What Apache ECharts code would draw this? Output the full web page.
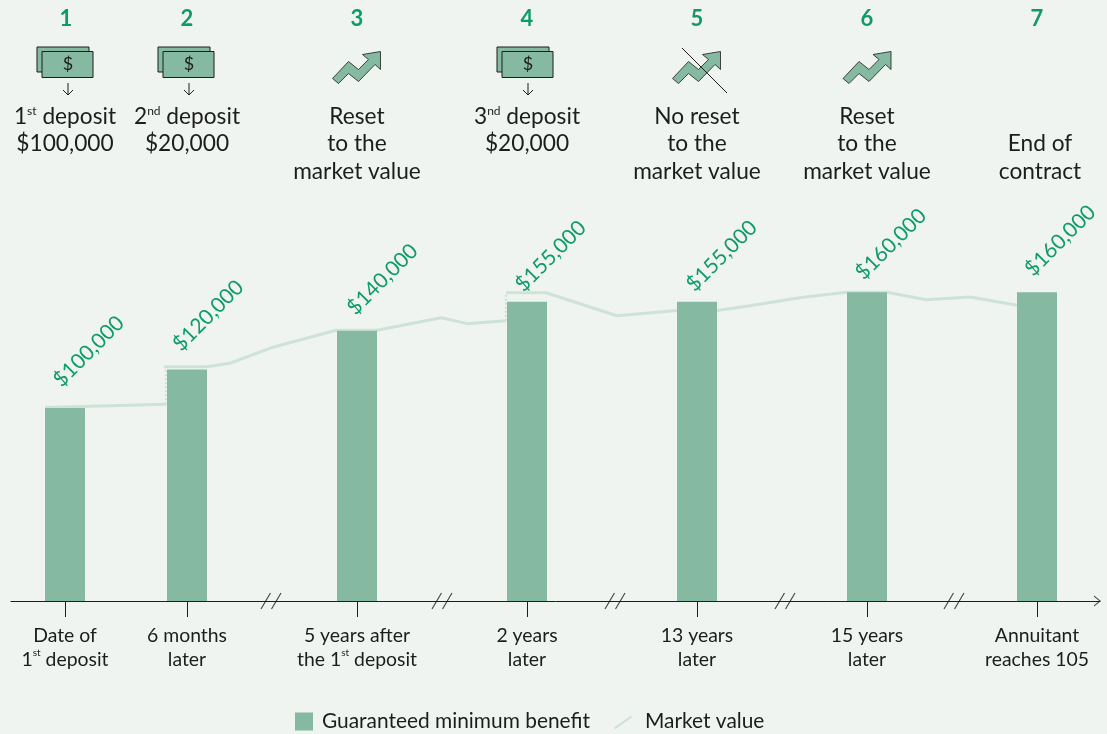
<!DOCTYPE html>
<html>
<head>
<meta charset="utf-8">
<script src="https://cdn.jsdelivr.net/npm/echarts@6/dist/echarts.min.js"></script>
<style>
  html, body { margin: 0; padding: 0; background: #eff4f0; }
  #chart { width: 1107px; height: 734px; }
</style>
</head>
<body>
<div id="chart"></div>
<script>
// x values are positions along the stylised (broken) time line
const tickPositions = [65, 187, 357, 527, 697, 867, 1037];
const tickLabels = [
  'Date of\n1{sup|st} deposit',
  '6 months\nlater',
  '5 years after\nthe 1{sup|st} deposit',
  '2 years\nlater',
  '13 years\nlater',
  '15 years\nlater',
  'Annuitant\nreaches 105'
];
const guaranteedBenefit = [100000, 120000, 140000, 155000, 155000, 160000, 160000];
const marketPart1 = [[45, 100300], [166, 101900]];
const marketPart2 = [[164, 121400], [207, 121400], [230, 123200], [271, 131200], [336, 140300], [377, 140300], [441, 146800], [467, 143700], [506, 145200]];
const marketPart3 = [[506, 159700], [546, 159700], [617, 147800], [677, 150500], [717, 150500], [750, 153000], [801, 157300], [847, 160000], [887, 160000], [926, 156100], [970, 157500], [1017, 153200], [1057, 153400]];
const resetJump1 = [[166, 101900], [166, 121400]];
const resetJump2 = [[506, 145200], [506, 159700]];
const axisBreaks = [271, 442, 615, 785, 954];

const stepNumbers = ['1', '2', '3', '4', '5', '6', '7'];
const stepTexts = [
  ['1{sup|st} deposit', '$100,000'],
  ['2{sup|nd} deposit', '$20,000'],
  ['Reset', 'to the', 'market value'],
  ['3{sup|nd} deposit', '$20,000'],
  ['No reset', 'to the', 'market value'],
  ['Reset', 'to the', 'market value'],
  ['', 'End of', 'contract']
];

const INK = '#1d1d1b';
const GREEN = '#0f9a6a';
const BAR = '#85b9a2';
const LINE = '#cfe2d8';
const FONT = 'Lato';

// hand placement of the rotated value labels, offsets are along / across the text
const labelOffsets = [[11.8, -23.3], [8, -23], [9.5, -18.3], [4, -15.5], [5, -15], [5.8, -17], [8, -20]];

function headerText(text, x, y) {
  return {
    type: 'text',
    style: {
      text: text, x: x, y: y, align: 'center', verticalAlign: 'middle',
      fontFamily: FONT, fontSize: 22.7, fill: INK,
      rich: {
        sup: { fontSize: 12, fontFamily: FONT, fill: INK, verticalAlign: 'top', padding: [0, 0, 9, 0] }
      }
    }
  };
}

function notesIcon(x) {
  const stroke = { fill: BAR, stroke: INK, lineWidth: 1 };
  return [
    { type: 'rect', shape: { x: x, y: 47, width: 52, height: 25 }, style: stroke },
    { type: 'rect', shape: { x: x + 5, y: 51.5, width: 51, height: 26 }, style: stroke },
    { type: 'text', style: { text: '$', x: x + 31, y: 64, align: 'center', verticalAlign: 'middle', fontFamily: FONT, fontSize: 18, fill: INK } },
    { type: 'polyline', shape: { points: [[x + 31, 83], [x + 31, 95]] }, style: { stroke: INK, lineWidth: 1, fill: null } },
    { type: 'polyline', shape: { points: [[x + 26, 90], [x + 31, 95], [x + 36, 90]] }, style: { stroke: INK, lineWidth: 1, fill: null } }
  ];
}

function trendIcon(x) {
  const pts = [[0, 27], [16, 10], [26, 18], [36, 8], [30, 3], [48, 0], [48, 18], [42.5, 13], [26, 30], [16, 22], [6, 32]];
  return {
    type: 'polygon',
    shape: { points: pts.map(p => [x + p[0], 51.5 + p[1]]) },
    style: { fill: BAR, stroke: INK, lineWidth: 0.8 }
  };
}

const graphics = [];
const numberX = [66, 187, 357, 527, 697, 867, 1037];
const textX = [65, 187, 357, 527, 697, 867, 1040];
const lineY = [117, 144, 172];
stepNumbers.forEach((n, i) => {
  graphics.push({
    type: 'text',
    style: { text: n, x: numberX[i], y: 19, align: 'center', verticalAlign: 'middle', fontFamily: FONT, fontSize: 22, fontWeight: 'bold', fill: GREEN }
  });
  stepTexts[i].forEach((t, k) => {
    if (t) graphics.push(headerText(t, textX[i], lineY[k]));
  });
});
graphics.push(...notesIcon(37), ...notesIcon(158), ...notesIcon(497));
graphics.push(trendIcon(332.5), trendIcon(672.5), trendIcon(843));
graphics.push({ type: 'line', shape: { x1: 682, y1: 48, x2: 727, y2: 93 }, style: { stroke: INK, lineWidth: 1 } });

const marketLine = data => ({
  name: 'Market value', type: 'line', data: data, z: 2, symbol: 'none',
  lineStyle: { color: LINE, width: 3 }, itemStyle: { color: LINE }, silent: true
});
const jumpLine = data => ({
  name: 'Reset', type: 'line', data: data, z: 2, symbol: 'none',
  lineStyle: { color: LINE, width: 2.5, type: [2, 2] }, silent: true
});

const chart = echarts.init(document.getElementById('chart'));
chart.setOption({
  animation: false,
  backgroundColor: '#eff4f0',
  textStyle: { fontFamily: FONT },
  graphic: graphics,
  grid: { left: 11, right: 7, top: 22, bottom: 133 },
  xAxis: {
    type: 'value', min: 11, max: 1100,
    splitLine: { show: false },
    axisLine: { show: true, onZero: true, lineStyle: { color: INK, width: 1 } },
    axisTick: { show: true, length: 16, customValues: tickPositions, lineStyle: { color: INK, width: 1 } },
    axisLabel: {
      show: true, margin: 23, color: INK, fontFamily: FONT, fontSize: 19.4, lineHeight: 24,
      customValues: tickPositions,
      formatter: v => tickLabels[tickPositions.indexOf(v)],
      rich: { sup: { fontSize: 10, fontFamily: FONT, color: INK, verticalAlign: 'top', padding: [0, 0, 7, 0] } }
    }
  },
  yAxis: { type: 'value', min: 0, max: 300000, show: false },
  legend: {
    left: 295, top: 711, padding: 0, itemWidth: 18, itemHeight: 18, itemGap: 24,
    textStyle: { color: INK, fontFamily: FONT, fontSize: 20.9, padding: [0, 0, 0, 4] },
    data: [
      { name: 'Guaranteed minimum benefit', icon: 'rect', itemStyle: { color: BAR } },
      {
        name: 'Market value', icon: 'path://M0 0L0 0ZM0 15L17 3L18 5L1 17ZM18 18L18 18Z', itemStyle: { color: LINE },
        textStyle: { padding: [0, 0, 0, 8] }
      }
    ]
  },
  series: [
    marketLine(marketPart1), marketLine(marketPart2), marketLine(marketPart3),
    jumpLine(resetJump1), jumpLine(resetJump2),
    {
      name: 'Guaranteed minimum benefit', type: 'bar', barWidth: 40, z: 3,
      itemStyle: { color: BAR },
      data: tickPositions.map((x, i) => ({
        value: [x, guaranteedBenefit[i]],
        label: { offset: labelOffsets[i] }
      })),
      label: {
        show: true, position: 'top', rotate: 45, align: 'left', verticalAlign: 'middle',
        distance: 0, color: GREEN, fontFamily: FONT, fontSize: 21,
        formatter: p => '$' + p.value[1].toLocaleString('en-US')
      }
    },
    {
      name: 'Axis break', type: 'scatter', z: 4, silent: true, clip: false,
      symbol: 'path://M0 16L9 0M10 16L19 0', symbolSize: [20, 16],
      itemStyle: { color: 'none', borderColor: INK, borderWidth: 1 },
      data: axisBreaks.map(x => [x, 0])
    },
    {
      name: 'Axis arrow', type: 'scatter', z: 4, silent: true, clip: false,
      symbol: 'path://M0 0L6 5L0 10', symbolSize: [6, 10],
      itemStyle: { color: 'none', borderColor: INK, borderWidth: 1 },
      data: [[1097, 0]]
    }
  ]
});
</script>
</body>
</html>
